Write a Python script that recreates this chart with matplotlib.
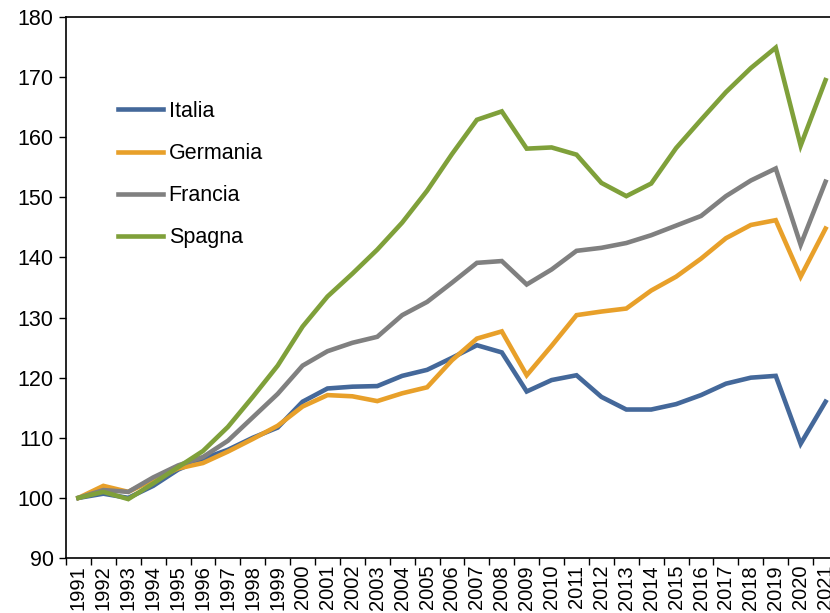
import matplotlib
matplotlib.use("Agg")
import matplotlib.pyplot as plt
import numpy as np

plt.rcParams['font.family'] = ['Liberation Sans', 'DejaVu Sans']

years = list(range(1991, 2022))
italia = [100, 100.7, 100, 102, 104.7, 106.5, 108, 110, 111.7, 116, 118.2, 118.5, 118.6, 120.3, 121.3,
          123.3, 125.4, 124.2, 117.7, 119.6, 120.4, 116.8, 114.7, 114.7, 115.6, 117.1, 119.0, 120, 120.3, 109, 116]
germania = [100, 102, 101, 103, 104.9, 105.8, 107.7, 109.8, 112, 115.2, 117.1, 116.9, 116.1, 117.4, 118.4,
            122.9, 126.5, 127.7, 120.4, 125.3, 130.4, 131, 131.5, 134.5, 136.8, 139.8, 143.2, 145.4, 146.2, 136.8, 144.8]
francia = [100, 101.3, 101, 103.4, 105.4, 106.8, 109.5, 113.4, 117.3, 122, 124.4, 125.8, 126.8, 130.4, 132.6,
           135.8, 139.1, 139.4, 135.5, 138, 141.1, 141.6, 142.4, 143.7, 145.3, 146.9, 150.2, 152.8, 154.8, 142.1, 152.6]
spagna = [100, 101, 99.8, 102.4, 105.1, 107.8, 111.8, 116.8, 122, 128.5, 133.5, 137.3, 141.3, 145.8, 151.1,
          157.2, 162.9, 164.3, 158.1, 158.3, 157.1, 152.4, 150.2, 152.3, 158.2, 162.9, 167.5, 171.5, 174.9, 158.6, 169.5]

series = [("Italia", italia, "#44689A"), ("Germania", germania, "#E8A02A"),
          ("Francia", francia, "#808080"), ("Spagna", spagna, "#7FA03A")]

fig = plt.figure(figsize=(8.3, 6.13), dpi=100)
ax = fig.add_axes([66/830, 1-558/613, (838-66)/830, (558-17)/613])

x = np.arange(len(years))
for name, vals, col in series:
    ax.plot(x, vals, color=col, lw=3.3, label=name, solid_joinstyle='miter')

ax.set_xlim(-0.5, len(years)-0.5)
ax.set_ylim(90, 180)
ax.set_yticks(range(90, 181, 10))
ax.set_xticks(x)
ax.set_xticklabels([str(y) for y in years], rotation=90, fontsize=14.5)
ax.set_xticks(np.arange(-0.5, len(years), 1), minor=True)
ax.tick_params(axis='x', which='major', length=0, pad=5)
ax.tick_params(axis='x', which='minor', length=5, width=1, direction='out')
ax.tick_params(axis='y', labelsize=15.5, length=5, width=1, direction='out', pad=4)
for s in ['left', 'bottom', 'top']:
    ax.spines[s].set_linewidth(1.2)
ax.spines['right'].set_visible(False)

leg = ax.legend(loc='upper left', bbox_to_anchor=(118/830, 1-101/613), bbox_transform=fig.transFigure,
                frameon=False, fontsize=15.5, borderpad=0, borderaxespad=0,
                handlelength=2.1, labelspacing=0.98, handletextpad=0.25)

fig.savefig("out.png", dpi=100)
